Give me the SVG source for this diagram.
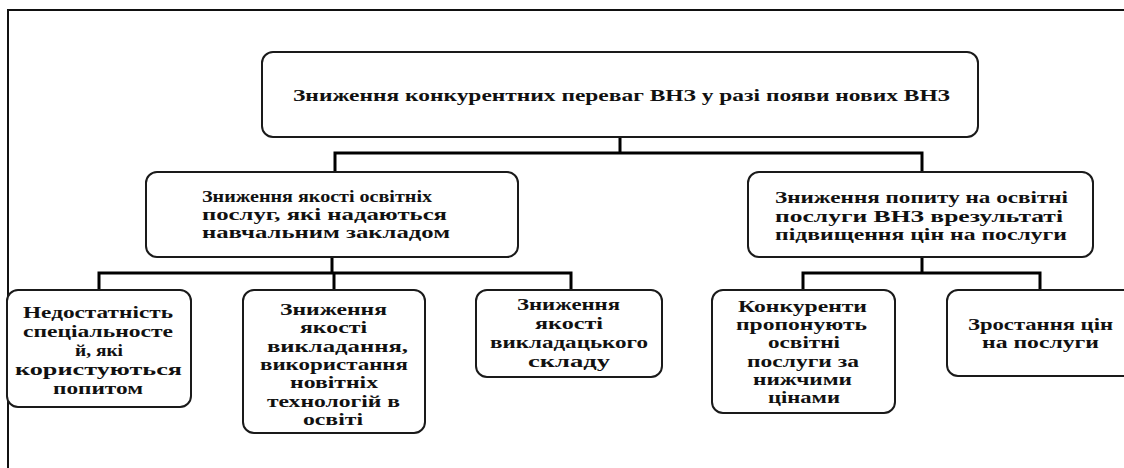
<svg xmlns="http://www.w3.org/2000/svg" width="1124" height="468" viewBox="0 0 1124 468">
<style>
.box{fill:#fff;stroke:#1a1a1a;stroke-width:2}
.t{font-family:"Liberation Serif","DejaVu Serif",serif;font-weight:bold;fill:#111;font-size:17px}
.c{fill:none;stroke:#000;stroke-width:3}
</style>
<rect x="8" y="10" width="1140" height="480" fill="#fff" stroke="#111" stroke-width="2"/>
<g id="connectors">
<path class="c" d="M620 137V153M335 172V153H922V172"/>
<path class="c" d="M332 257V273M99 290V273H571V290M334 273V290"/>
<path class="c" d="M922 257V273M803 290V273H1040V290"/>
</g>
<g id="top">
<rect class="box" x="262" y="52" width="716" height="85" rx="11"/>
<text class="t" x="293" y="101" textLength="657" lengthAdjust="spacingAndGlyphs">Зниження конкурентних переваг ВНЗ у разі появи нових ВНЗ</text>
</g>
<g id="midLeft">
<rect class="box" x="146" y="172" width="372" height="85" rx="11"/>
<text class="t" x="202" y="202" textLength="230" lengthAdjust="spacingAndGlyphs">Зниження якості освітніх</text>
<text class="t" x="202" y="220" textLength="245" lengthAdjust="spacingAndGlyphs">послуг, які надаються</text>
<text class="t" x="202" y="238" textLength="248" lengthAdjust="spacingAndGlyphs">навчальним закладом</text>
</g>
<g id="midRight">
<rect class="box" x="748" y="172" width="345" height="85" rx="11"/>
<text class="t" x="775" y="203" textLength="293" lengthAdjust="spacingAndGlyphs">Зниження попиту на освітні</text>
<text class="t" x="775" y="222" textLength="288" lengthAdjust="spacingAndGlyphs">послуги ВНЗ врезультаті</text>
<text class="t" x="775" y="240" textLength="292" lengthAdjust="spacingAndGlyphs">підвищення цін на послуги</text>
</g>
<g id="n1">
<rect class="box" x="7" y="290" width="184" height="117" rx="11"/>
<text class="t" x="23" y="318" textLength="150" lengthAdjust="spacingAndGlyphs">Недостатність</text>
<text class="t" x="23" y="337" textLength="150" lengthAdjust="spacingAndGlyphs">спеціальносте</text>
<text class="t" x="75" y="356" textLength="48" lengthAdjust="spacingAndGlyphs">й, які</text>
<text class="t" x="15" y="375" textLength="167" lengthAdjust="spacingAndGlyphs">користуються</text>
<text class="t" x="53" y="394" textLength="90" lengthAdjust="spacingAndGlyphs">попитом</text>
</g>
<g id="n2">
<rect class="box" x="243" y="290" width="182" height="143" rx="11"/>
<text class="t" x="280" y="315" textLength="107" lengthAdjust="spacingAndGlyphs">Зниження</text>
<text class="t" x="300" y="333" textLength="67" lengthAdjust="spacingAndGlyphs">якості</text>
<text class="t" x="267" y="352" textLength="141" lengthAdjust="spacingAndGlyphs">викладання,</text>
<text class="t" x="260" y="370" textLength="148" lengthAdjust="spacingAndGlyphs">використання</text>
<text class="t" x="290" y="388" textLength="88" lengthAdjust="spacingAndGlyphs">новітніх</text>
<text class="t" x="267" y="407" textLength="133" lengthAdjust="spacingAndGlyphs">технологій в</text>
<text class="t" x="303" y="425" textLength="60" lengthAdjust="spacingAndGlyphs">освіті</text>
</g>
<g id="n3">
<rect class="box" x="476" y="290" width="186" height="87" rx="11"/>
<text class="t" x="517" y="310" textLength="103" lengthAdjust="spacingAndGlyphs">Зниження</text>
<text class="t" x="535" y="329" textLength="68" lengthAdjust="spacingAndGlyphs">якості</text>
<text class="t" x="490" y="348" textLength="158" lengthAdjust="spacingAndGlyphs">викладацького</text>
<text class="t" x="528" y="367" textLength="82" lengthAdjust="spacingAndGlyphs">складу</text>
</g>
<g id="n4">
<rect class="box" x="712" y="290" width="183" height="123" rx="11"/>
<text class="t" x="738" y="312" textLength="129" lengthAdjust="spacingAndGlyphs">Конкуренти</text>
<text class="t" x="736" y="330" textLength="131" lengthAdjust="spacingAndGlyphs">пропонують</text>
<text class="t" x="768" y="348" textLength="72" lengthAdjust="spacingAndGlyphs">освітні</text>
<text class="t" x="747" y="367" textLength="112" lengthAdjust="spacingAndGlyphs">послуги за</text>
<text class="t" x="753" y="385" textLength="99" lengthAdjust="spacingAndGlyphs">нижчими</text>
<text class="t" x="768" y="403" textLength="72" lengthAdjust="spacingAndGlyphs">цінами</text>
</g>
<g id="n5">
<rect class="box" x="947" y="290" width="190" height="86" rx="11"/>
<text class="t" x="968" y="330" textLength="145" lengthAdjust="spacingAndGlyphs">Зростання цін</text>
<text class="t" x="982" y="348" textLength="117" lengthAdjust="spacingAndGlyphs">на послуги</text>
</g>
</svg>
